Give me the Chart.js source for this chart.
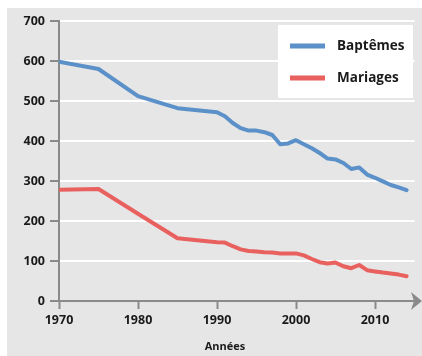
<!DOCTYPE html>
<html>
<head>
<meta charset="utf-8">
<script src="https://cdn.jsdelivr.net/npm/chart.js@4"></script>
<style>
html,body{margin:0;padding:0;background:#fff;}
#wrap{width:422px;height:356px;position:relative;}
</style>
</head>
<body>
<div id="wrap"><canvas id="c" width="422" height="356"></canvas></div>
<script>
const years = [1970,1975,1980,1985,1990,1991,1992,1993,1994,1995,1996,1997,1998,1999,2000,2001,2002,2003,2004,2005,2006,2007,2008,2009,2010,2011,2012,2013,2014];
const baptemes = [598,580,512,482,472,462,445,432,426,426,422,415,392,394,402,392,382,370,356,354,345,330,334,316,308,299,290,284,277];
const mariages = [278,280,218,157,147,146,137,129,125,124,122,121,119,119,119,114,105,97,94,96,87,82,90,77,74,71,69,66,62];
const xTickLabels = [1970,1980,1990,2000,2010];
const yTickLabels = [0,100,200,300,400,500,600,700];
const seriesNames = ['Baptêmes','Mariages'];
const xTitle = 'Années';

const BLUE = '#5b90c8';
const RED = '#e8615f';
const AXIS = '#8a8a8a';
const FONT = "'Open Sans', 'DejaVu Sans', sans-serif";

const bgPlugin = {
  id: 'bg',
  beforeDraw(chart) {
    const ctx = chart.ctx;
    ctx.save();
    ctx.fillStyle = '#ffffff';
    ctx.fillRect(0, 0, chart.width, chart.height);
    ctx.fillStyle = '#e6e6e6';
    ctx.fillRect(7, 8, chart.width - 7, chart.height - 8);
    ctx.restore();
  }
};

const decoPlugin = {
  id: 'deco',
  afterDraw(chart) {
    const ctx = chart.ctx;
    const a = chart.chartArea;
    ctx.save();
    // axis arrow
    ctx.strokeStyle = AXIS;
    ctx.lineWidth = 2;
    ctx.beginPath();
    ctx.moveTo(a.right - 1, a.bottom);
    ctx.lineTo(416, a.bottom);
    ctx.stroke();
    ctx.fillStyle = AXIS;
    ctx.beginPath();
    ctx.moveTo(422, a.bottom);
    ctx.lineTo(411, a.bottom - 9);
    ctx.lineTo(414, a.bottom);
    ctx.lineTo(411, a.bottom + 9);
    ctx.closePath();
    ctx.fill();
    // axis title
    ctx.fillStyle = '#1a1a1a';
    ctx.font = "bold 11px " + FONT;
    ctx.textAlign = 'center';
    ctx.textBaseline = 'middle';
    ctx.fillText(xTitle, 225, 347);
    // legend
    ctx.fillStyle = '#ffffff';
    ctx.fillRect(278, 25, 135, 73);
    const rows = [46, 78];
    chart.data.datasets.forEach((ds, i) => {
      ctx.strokeStyle = ds.borderColor;
      ctx.lineWidth = 5;
      ctx.lineCap = 'butt';
      ctx.beginPath();
      ctx.moveTo(290, rows[i]);
      ctx.lineTo(325, rows[i]);
      ctx.stroke();
      ctx.fillStyle = '#1a1a1a';
      ctx.font = "bold 13.5px " + FONT;
      ctx.textAlign = 'left';
      ctx.textBaseline = 'middle';
      ctx.fillText(ds.label, 337, rows[i]);
    });
    ctx.restore();
  }
};

new Chart(document.getElementById('c'), {
  type: 'line',
  data: {
    datasets: [
      { label: seriesNames[0], data: years.map((y, i) => ({x: y, y: baptemes[i]})), borderColor: BLUE, backgroundColor: BLUE, borderWidth: 4, pointRadius: 0, tension: 0, borderJoinStyle: 'round', borderCapStyle: 'round' },
      { label: seriesNames[1], data: years.map((y, i) => ({x: y, y: mariages[i]})), borderColor: RED, backgroundColor: RED, borderWidth: 4, pointRadius: 0, tension: 0, borderJoinStyle: 'round', borderCapStyle: 'round' }
    ]
  },
  options: {
    responsive: false,
    animation: false,
    events: [],
    layout: { padding: { top: 21, right: 7.5, left: 0, bottom: 0 } },
    plugins: { legend: { display: false }, tooltip: { enabled: false } },
    scales: {
      x: {
        type: 'linear',
        min: 1970,
        max: 2015,
        afterBuildTicks: (s) => { s.ticks = xTickLabels.map(v => ({value: v})); },
        afterFit: (s) => { s.height = 55; },
        ticks: { color: '#1a1a1a', font: { family: FONT, size: 12.5, weight: 'bold' }, padding: 4, maxRotation: 0, autoSkip: false, callback: (v) => String(v) },
        grid: { drawOnChartArea: false, drawTicks: true, tickLength: 8, tickColor: AXIS, tickWidth: 2 },
        border: { color: AXIS, width: 2 }
      },
      y: {
        min: 0,
        max: 700,
        afterBuildTicks: (s) => { s.ticks = yTickLabels.map(v => ({value: v})); },
        afterFit: (s) => { s.width = 59; },
        ticks: { color: '#1a1a1a', font: { family: FONT, size: 12.5, weight: 'bold' }, padding: 5, callback: (v) => String(v) },
        grid: { color: (c) => (c.tick && c.tick.value === 0) ? 'rgba(0,0,0,0)' : '#ffffff', lineWidth: 2, tickLength: 9, tickColor: AXIS, tickWidth: 2 },
        border: { color: AXIS, width: 2 }
      }
    }
  },
  plugins: [bgPlugin, decoPlugin]
});
</script>
</body>
</html>
